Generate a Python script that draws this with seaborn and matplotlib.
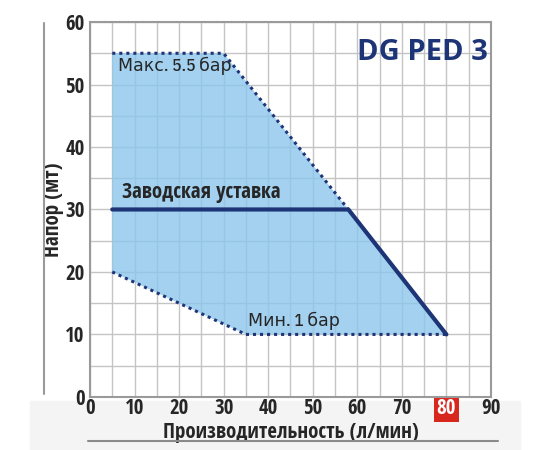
import numpy as np
import matplotlib
matplotlib.use("Agg")
import matplotlib.pyplot as plt
import seaborn as sns
from matplotlib.lines import Line2D
from matplotlib.patches import Rectangle

# data
max_x = [5, 30, 58]
max_y = [55, 55, 30]
min_x = [5, 35, 80]
min_y = [20, 10, 10]
factory_x = [5, 58, 80]
factory_y = [30, 30, 10]

x_ticks = [0, 10, 20, 30, 40, 50, 60, 70, 80, 90]
y_ticks = [0, 10, 20, 30, 40, 50, 60]

navy = "#1d3577"
fill_col = "#8cc6ec"
cond_bold = ["Open Sans Condensed", "DejaVu Sans"]
cond_reg = ["IBM Plex Sans Condensed", "DejaVu Sans"]

sns.set_style("white")
plt.rcParams["font.family"] = cond_bold

fig = plt.figure(figsize=(5.5, 4.5), dpi=100)
fig.patches.append(Rectangle((0.055, 0.0), 0.89, 0.11, transform=fig.transFigure,
                             color="#f4f4f4", zorder=-5))
ax = fig.add_axes([0.1636, 0.118, 0.729, 0.833])

# shaded working area: upper edge = max line then factory line, lower edge = min line
poly_x = max_x + factory_x[1:] + min_x[::-1][1:]
poly_y = max_y + factory_y[1:] + min_y[::-1][1:]
ax.fill(poly_x, poly_y, color=fill_col, alpha=0.8, zorder=1, lw=0)

sns.lineplot(x=max_x, y=max_y, sort=False, ax=ax, color=navy, lw=2.2,
             linestyle=(0, (1, 1.3)), zorder=3)
sns.lineplot(x=min_x, y=min_y, sort=False, ax=ax, color=navy, lw=2.2,
             linestyle=(0, (1, 1.3)), zorder=3)
sns.lineplot(x=factory_x, y=factory_y, sort=False, ax=ax, color=navy, lw=3,
             zorder=4)

ax.set_xlim(0, 90)
ax.set_ylim(0, 60)
ax.set_xticks(x_ticks)
ax.set_yticks(y_ticks)
ax.set_xticks(np.arange(5, 90, 10), minor=True)
ax.set_yticks(np.arange(5, 60, 10), minor=True)
ax.grid(True, which="both", color="#c4c4c4", lw=1, zorder=0)
ax.set_axisbelow(True)
ax.tick_params(axis="both", which="both", length=0, labelsize=15)
ax.tick_params(axis="x", pad=1)
ax.tick_params(axis="y", pad=4)
for lab in ax.get_xticklabels() + ax.get_yticklabels():
    lab.set_fontweight("bold")
    lab.set_family(cond_bold)
for lab in ax.get_xticklabels():
    if lab.get_text() == "80":
        lab.set_color("white")
        lab.set_bbox(dict(facecolor="#d8281e", edgecolor="none", pad=2))
for s in ax.spines.values():
    s.set_color("#9a9a9a")
    s.set_linewidth(1.5)

ax.set_xlabel("Производительность (л/мин)", fontsize=15, fontweight="bold",
              family=cond_bold)
ax.set_ylabel("Напор (мт)", fontsize=15, fontweight="bold", family=cond_bold)
ax.xaxis.set_label_coords(0.5, -0.066)
ax.yaxis.set_label_coords(-0.066, 0.5)

ax.text(6.3, 54.4, "Макс. 5.5 бар", fontsize=12.5, fontweight="medium",
        family=cond_reg, va="top", zorder=5)
ax.text(7.2, 31.0, "Заводская уставка", fontsize=15, fontweight="bold",
        family=cond_bold, va="bottom", zorder=5)
ax.text(35.5, 10.7, "Мин. 1 бар", fontsize=12.5, fontweight="medium",
        family=cond_reg, va="bottom", zorder=5)
ax.text(89.3, 54.0, "DG PED 3", fontsize=21, fontweight="bold", color=navy,
        family=["Open Sans", "DejaVu Sans"], ha="right", va="baseline", zorder=5)

# decorative rules
fig.add_artist(Line2D([0.08, 0.08], [0.125, 0.95], transform=fig.transFigure,
                      color="#9a9a9a", lw=1.5))
fig.add_artist(Line2D([0.16, 0.905], [0.02, 0.02], transform=fig.transFigure,
                      color="#8a8a8a", lw=1.5))

fig.savefig("out.png", dpi=100)
